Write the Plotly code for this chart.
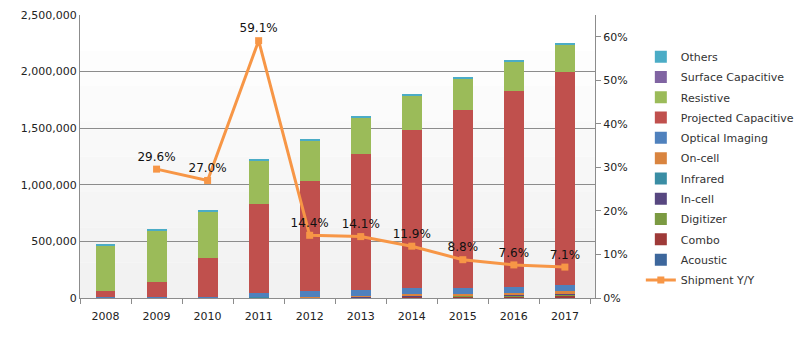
import plotly.graph_objects as go

years = ["2008", "2009", "2010", "2011", "2012", "2013", "2014", "2015", "2016", "2017"]

# stacked from bottom to top
acoustic   = [3000, 3000, 3000, 3000, 3000, 3000, 3000, 3000, 3000, 3000]
combo      = [0, 0, 0, 0, 0, 2000, 8000, 9000, 12000, 20000]
digitizer  = [0, 0, 0, 2000, 3000, 3000, 6000, 6000, 6000, 6000]
in_cell    = [0, 0, 0, 0, 0, 2000, 6000, 6000, 8000, 12000]
infrared   = [2000, 2000, 3000, 2000, 2000, 2000, 3000, 2000, 2000, 3000]
on_cell    = [0, 0, 0, 0, 2000, 3000, 7000, 8000, 9000, 15000]
optical    = [1000, 1000, 4000, 40000, 52000, 56000, 53000, 52000, 55000, 53000]
projected  = [56000, 135000, 340000, 780000, 968000, 1203000, 1394000, 1579000, 1735000, 1883000]
resistive  = [400000, 457000, 413000, 386000, 362000, 322000, 311000, 275000, 260000, 241000]
surface_cap = [2000, 2000, 1000, 1000, 1000, 1000, 1000, 1000, 1000, 1000]
others     = [7000, 6000, 7000, 7000, 7000, 7000, 7000, 7000, 7000, 7000]

yoy_years = ["2009", "2010", "2011", "2012", "2013", "2014", "2015", "2016", "2017"]
yoy = [0.296, 0.270, 0.591, 0.144, 0.141, 0.119, 0.088, 0.076, 0.071]
yoy_labels = ["29.6%", "27.0%", "59.1%", "14.4%", "14.1%", "11.9%", "8.8%", "7.6%", "7.1%"]

series = [
    ("Acoustic", acoustic, "#3d679c"),
    ("Combo", combo, "#9e3a38"),
    ("Digitizer", digitizer, "#7b9a42"),
    ("In-cell", in_cell, "#574780"),
    ("Infrared", infrared, "#3a8da4"),
    ("On-cell", on_cell, "#d9843f"),
    ("Optical Imaging", optical, "#4f81bd"),
    ("Projected Capacitive", projected, "#c0504d"),
    ("Resistive", resistive, "#9bbb59"),
    ("Surface Capacitive", surface_cap, "#8064a2"),
    ("Others", others, "#4bacc6"),
]

fig = go.Figure()

fig.add_trace(go.Scatter(
    x=yoy_years, y=yoy, name="Shipment Y/Y", yaxis="y2",
    mode="lines+markers+text", text=yoy_labels, textposition="top center",
    textfont=dict(size=12, color="#111111", family="DejaVu Sans"),
    line=dict(color="#f79646", width=3),
    marker=dict(symbol="square", size=7, color="#f79646"),
    legendgroup="g_line", legendrank=1000, cliponaxis=False,
))

nser = len(series)
for i, (name, vals, col) in enumerate(series):
    fig.add_trace(go.Bar(
        x=years, y=vals, name=name, marker=dict(color=col, line=dict(width=0)),
        legendgroup="g_" + name, legendrank=100 + (nser - i) * 10,
    ))

# soft vertical gradient in the plot area
shapes = []
bands = ["#f2f2f2", "#f3f3f3", "#f5f5f5", "#f7f7f7", "#f9f9f9", "#fbfbfb", "#fdfdfd", "#ffffff"]
n = len(bands)
for i, c in enumerate(bands):
    shapes.append(dict(type="rect", xref="paper", yref="paper", x0=0, x1=1,
                       y0=i / n, y1=(i + 1) / n, fillcolor=c, line=dict(width=0),
                       layer="below"))

fig.update_layout(
    width=800, height=338,
    margin=dict(l=80, r=205, t=15, b=40, autoexpand=False),
    paper_bgcolor="white", plot_bgcolor="white",
    barmode="stack", bargap=0.61,
    font=dict(family="DejaVu Sans", size=11, color="#333333"),
    shapes=shapes,
    showlegend=True,
    legend=dict(
        traceorder="grouped", x=1.089, xanchor="left", y=0.904, yanchor="top",
        font=dict(size=11, color="#333333", family="DejaVu Sans"),
        tracegroupgap=1.3, bgcolor="rgba(0,0,0,0)",
        itemwidth=30,
    ),
    xaxis=dict(
        type="category", categoryorder="array", categoryarray=years,
        showline=True, linecolor="#8c8c8c", linewidth=1,
        ticks="outside", tickson="boundaries", ticklen=5, tickcolor="#8c8c8c",
        tickfont=dict(size=11, color="#222222"), showgrid=False,
        ticklabelstandoff=8,
    ),
    yaxis=dict(
        range=[0, 2500000], dtick=500000, tickformat=",", showgrid=True,
        gridcolor="#8c8c8c", gridwidth=1, showline=True, linecolor="#8c8c8c",
        tickfont=dict(size=11, color="#222222"), zeroline=False,
    ),
    yaxis2=dict(
        overlaying="y", side="right", range=[0, 0.65],
        tickvals=[0, 0.1, 0.2, 0.3, 0.4, 0.5, 0.6], tickformat=".0%",
        showgrid=False, showline=True, linecolor="#8c8c8c", ticks="outside",
        ticklen=5, tickcolor="#8c8c8c", tickfont=dict(size=11, color="#222222"),
        zeroline=False,
    ),
)

fig.write_html("out.html")
